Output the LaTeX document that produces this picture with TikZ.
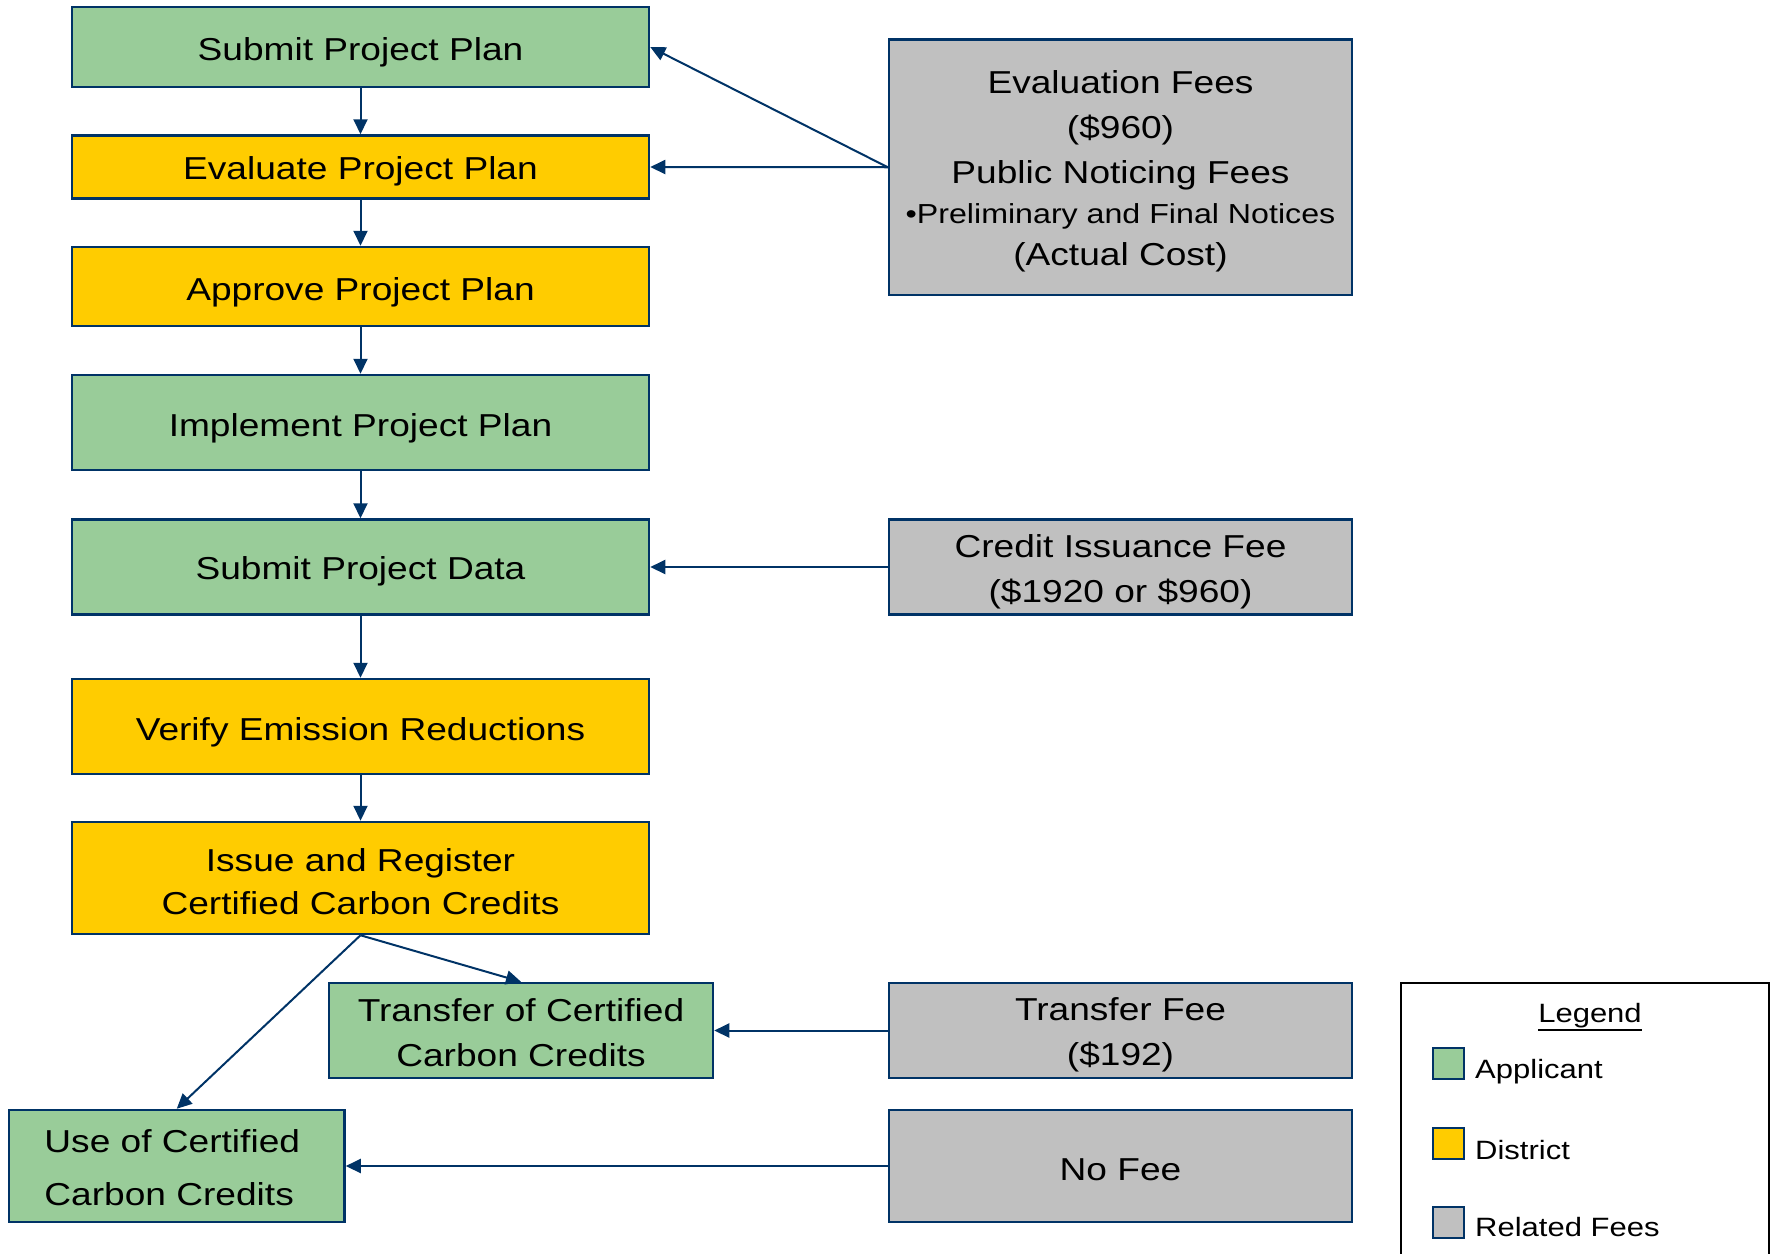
\documentclass[tikz,border=0pt]{standalone}
\usepackage{fontspec}
\setmainfont{Liberation Sans}[FakeStretch=1.17]
\usetikzlibrary{arrows.meta}
\definecolor{appgreen}{HTML}{99CC99}
\definecolor{distyellow}{HTML}{FFCC00}
\definecolor{feegray}{HTML}{C0C0C0}
\definecolor{navy}{HTML}{003366}
\newcommand{\mainsz}{\fontsize{31.7}{45}\selectfont}
\newcommand{\smallsz}{\fontsize{27.5}{40}\selectfont}
\newcommand{\legsz}{\fontsize{26.5}{34}\selectfont}
% lower a line of text without changing the size the node sees
\newcommand{\dn}[2][5pt]{\raisebox{-#1}[\height][\depth]{#2}}
% thicker underline
\newcommand{\myul}[1]{\setbox0\hbox{#1}\rlap{\rule[-8.7pt]{\wd0}{2.3pt}}\box0}
\tikzset{
  boxbase/.style={rectangle, draw=navy, line width=2.5pt, inner sep=0pt, align=center, font=\mainsz, text=black},
  appbox/.style={boxbase, fill=appgreen},
  distbox/.style={boxbase, fill=distyellow},
  feebox/.style={boxbase, fill=feegray},
  conn/.style={draw=navy, line width=2pt, -{Triangle[length=15pt,width=14pt]}},
  legsq/.style={rectangle, draw=navy, line width=2pt, minimum width=31pt, minimum height=31pt, inner sep=0pt},
  legtxt/.style={anchor=west, font=\legsz, inner sep=0pt},
}
\begin{document}
\begin{tikzpicture}[x=1pt,y=-1pt]
\useasboundingbox (0,0) rectangle (1771,1253);
% main column
\node[appbox, minimum width=577pt, minimum height=80pt] (s1) at (360.5,47) {\dn[5.5pt]{Submit Project Plan}};
\node[distbox, minimum width=577pt, minimum height=63pt] (s2) at (360.5,167) {\dn[4pt]{Evaluate Project Plan}};
\node[distbox, minimum width=577pt, minimum height=79pt] (s3) at (360.5,286.5) {\dn[5.5pt]{Approve Project Plan}};
\node[appbox, minimum width=577pt, minimum height=95pt] (s4) at (360.5,422.5) {\dn[5.5pt]{Implement Project Plan}};
\node[appbox, minimum width=577pt, minimum height=95pt] (s5) at (360.5,567) {\dn[4pt]{Submit Project Data}};
\node[distbox, minimum width=577pt, minimum height=95pt] (s6) at (360.5,726.5) {\dn[5.5pt]{Verify Emission Reductions}};
\node[distbox, minimum width=577pt, minimum height=112pt, font=\fontsize{31.7}{43}\selectfont] (s7) at (360.5,878) {\dn[3.5pt]{Issue and Register}\\\dn[3.5pt]{Certified Carbon Credits}};
\node[appbox, minimum width=384pt, minimum height=95pt] (tr) at (521,1030.5) {\dn[2.5pt]{Transfer of Certified}\\\dn[2.5pt]{Carbon Credits}};
\node[appbox, minimum width=335.5pt, minimum height=112pt, align=left, font=\fontsize{31.7}{53}\selectfont] (us) at (176.75,1166) {\dn[1.5pt]{Use of Certified}\hspace*{9pt}\\\dn[1.5pt]{Carbon Credits}};
% fee column
\node[feebox, minimum width=463pt, minimum height=255.5pt] (f1) at (1120.5,167.25) {\dn[4pt]{Evaluation Fees}\\\dn[4pt]{(\$960)}\\\dn[4pt]{Public Noticing Fees}\\[-5pt]\dn[4pt]{\smallsz •Preliminary and Final Notices}\\[-3pt]\dn[4pt]{(Actual Cost)}};
\node[feebox, minimum width=463pt, minimum height=95pt] (f2) at (1120.5,567) {\dn[4.5pt]{Credit Issuance Fee}\\\dn[4.5pt]{(\$1920 or \$960)}};
\node[feebox, minimum width=463pt, minimum height=95pt] (f3) at (1120.5,1030.5) {\dn[4.5pt]{Transfer Fee}\\\dn[4.5pt]{(\$192)}};
\node[feebox, minimum width=463pt, minimum height=112pt] (f4) at (1120.5,1166) {\dn[3.5pt]{No Fee}};
% connectors
\draw[conn] (s1) -- (s2);
\draw[conn] (s2) -- (s3);
\draw[conn] (s3) -- (s4);
\draw[conn] (s4) -- (s5);
\draw[conn] (s5) -- (s6);
\draw[conn] (s6) -- (s7);
\draw[conn] (s7.south) -- (tr.north);
\draw[conn] (s7.south) -- (us.north);
\draw[conn] (f1.west) -- (s1.east);
\draw[conn] (f1.west) -- (s2.east);
\draw[conn] (f2.west) -- (s5.east);
\draw[conn] (f3.west) -- (tr.east);
\draw[conn] (f4.west) -- (us.east);
% legend
\draw[black, line width=2pt] (1400.6,1256) -- (1400.6,982.7) -- (1768.8,982.7) -- (1768.8,1256);
\node[font=\legsz, inner sep=0pt] (lt) at (1590,1017) {\myul{Legend}};
\node[legsq, fill=appgreen] (l1) at (1448.5,1063) {};
\node[legsq, fill=distyellow] (l2) at (1448.5,1143) {};
\node[legsq, fill=feegray] (l3) at (1448.5,1222.5) {};
\node[legtxt] (l1t) at ([xshift=10pt,yshift=-8.5pt]l1.east) {Applicant};
\node[legtxt] (l2t) at ([xshift=10pt,yshift=-7pt]l2.east) {District};
\node[legtxt] (l3t) at ([xshift=10pt,yshift=-5pt]l3.east) {Related Fees};
\end{tikzpicture}
\end{document}
